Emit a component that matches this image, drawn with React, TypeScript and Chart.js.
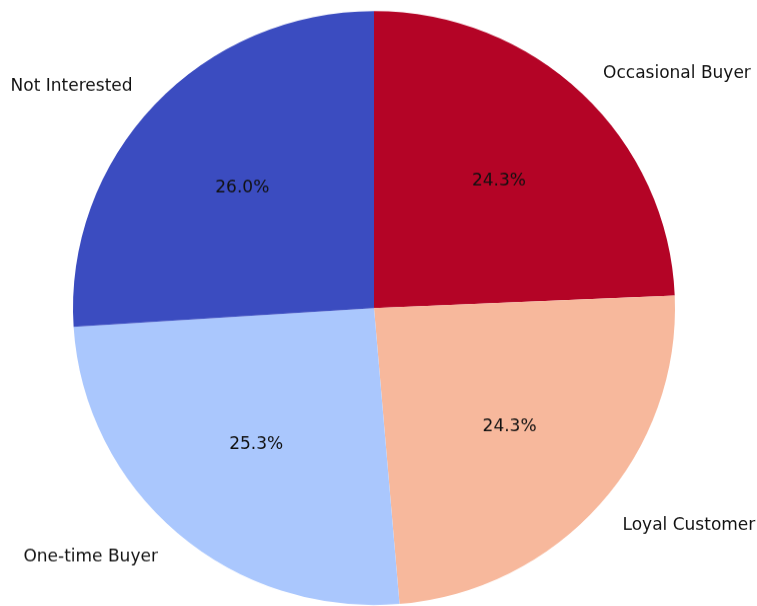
import React, { useEffect, useRef } from "react";
import { Chart, registerables } from "chart.js";

Chart.register(...registerables);

// Clockwise from the top (Chart.js draws clockwise)
const categories = ["Occasional Buyer", "Loyal Customer", "One-time Buyer", "Not Interested"];
const counts = [72, 72, 75, 77];
const colors = ["#b40426", "#f7b89c", "#aac7fd", "#3b4cc0"];

const labelPlugin = {
  id: "pieLabels",
  afterDatasetsDraw(chart: any) {
    const ctx = chart.ctx;
    const meta = chart.getDatasetMeta(0);
    const data = chart.data.datasets[0].data as number[];
    const total = data.reduce((a, b) => a + b, 0);
    ctx.save();
    ctx.font = "17px 'DejaVu Sans'";
    ctx.fillStyle = "#111111";
    const dy = 1.5;
    meta.data.forEach((arc: any, i: number) => {
      const p = arc.getProps(["x", "y", "startAngle", "endAngle", "outerRadius"], true);
      const mid = (p.startAngle + p.endAngle) / 2;
      const c = Math.cos(mid);
      const s = Math.sin(mid);
      ctx.textAlign = c >= 0 ? "left" : "right";
      ctx.textBaseline = "middle";
      ctx.fillText(
        chart.data.labels[i],
        p.x + c * p.outerRadius * 1.1,
        p.y + s * p.outerRadius * 1.1 + dy
      );
      ctx.textAlign = "center";
      ctx.fillText(
        ((data[i] / total) * 100).toFixed(1) + "%",
        p.x + c * p.outerRadius * 0.6,
        p.y + s * p.outerRadius * 0.6 + dy
      );
    });
    ctx.restore();
  },
};

export default function App() {
  const ref = useRef<HTMLCanvasElement>(null);
  useEffect(() => {
    if (!ref.current) return;
    const chart = new Chart(ref.current, {
      type: "pie",
      data: {
        labels: categories,
        datasets: [
          {
            data: counts,
            backgroundColor: colors,
            borderWidth: 0,
          },
        ],
      },
      options: {
        responsive: false,
        animation: false,
        layout: { padding: { left: 73, right: 82, top: 11.2, bottom: 1.8 } },
        plugins: {
          legend: { display: false },
          tooltip: { enabled: false },
        },
      },
      plugins: [labelPlugin],
    });
    return () => chart.destroy();
  }, []);
  return (
    <div
      style={{
        position: "fixed",
        left: 0,
        top: 0,
        width: 757,
        height: 606,
        overflow: "hidden",
        background: "#fff",
      }}
    >
      <canvas
        ref={ref}
        width={757}
        height={615}
        style={{
          width: 757,
          height: 615,
          display: "block",
          transform: "scaleY(0.9867)",
          transformOrigin: "top left",
        }}
      />
    </div>
  );
}
